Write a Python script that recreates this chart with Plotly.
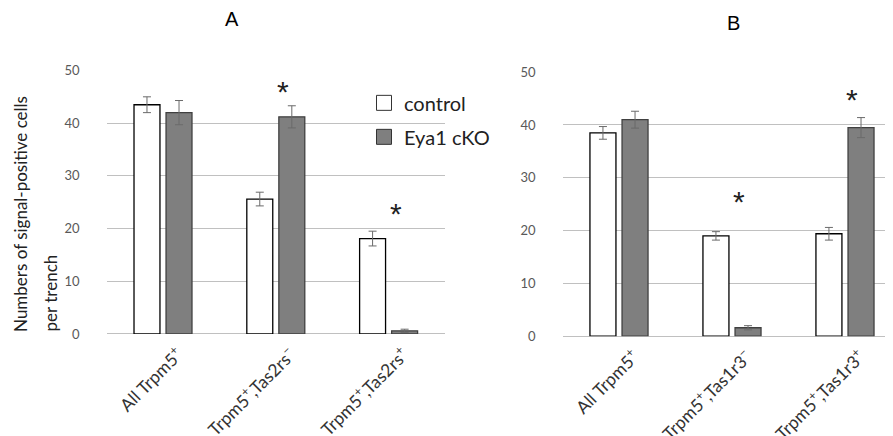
import plotly.graph_objects as go

# ---- data ----
cats_a = ["All Trpm5<sup>+</sup>", "Trpm5<sup>+</sup>,Tas2rs<sup>−</sup>", "Trpm5<sup>+</sup>,Tas2rs<sup>+</sup>"]
cats_b = ["All Trpm5<sup>+</sup>", "Trpm5<sup>+</sup>,Tas1r3<sup>−</sup>", "Trpm5<sup>+</sup>,Tas1r3<sup>+</sup>"]

ctrl_a = [43.5, 25.6, 18.1]
ctrl_a_err = [1.5, 1.3, 1.4]
cko_a = [42.0, 41.2, 0.6]
cko_a_err = [2.3, 2.1, 0.3]

ctrl_b = [38.5, 19.0, 19.4]
ctrl_b_err = [1.2, 0.8, 1.2]
cko_b = [41.0, 1.6, 39.5]
cko_b_err = [1.6, 0.4, 1.9]

sig_a = [(1, 46.3), (2, 23.2)]  # (category index, height) of asterisks
sig_b = [(1, 25.8), (2, 45.2)]

W, H = 893, 436
font_main = "Lato"

# page placement helpers (screen px -> paper fraction)
def sx(x):
    return (x - 8) / W


def sy(y):
    return 1 - (y - 16) / 420


fig = go.Figure()

ctrl_style = dict(marker=dict(color="white", line=dict(color="black", width=1.3)))
cko_style = dict(marker=dict(color="#7f7f7f", line=dict(color="#404040", width=1.3)))
err_style = dict(type="data", color="#6a6a6a", thickness=1, width=4)

for cats, c, ce, k, ke, xa, ya in [
    (cats_a, ctrl_a, ctrl_a_err, cko_a, cko_a_err, "x", "y"),
    (cats_b, ctrl_b, ctrl_b_err, cko_b, cko_b_err, "x2", "y2"),
]:
    fig.add_trace(go.Bar(x=cats, y=c, error_y=dict(array=ce, **err_style), name="control",
                         showlegend=False, xaxis=xa, yaxis=ya, **ctrl_style))
    fig.add_trace(go.Bar(x=cats, y=k, error_y=dict(array=ke, **err_style), name="Eya1 cKO",
                         showlegend=False, xaxis=xa, yaxis=ya, **cko_style))

# legend entries
fig.add_trace(go.Scatter(x=[None], y=[None], mode="markers", name="control", legendgroup="g1",
                         marker=dict(symbol="square", size=15, color="white", line=dict(color="#333", width=1))))
fig.add_trace(go.Scatter(x=[None], y=[None], mode="markers", name="Eya1 cKO", legendgroup="g2",
                         marker=dict(symbol="square", size=15, color="#7f7f7f", line=dict(color="#333", width=1))))

grid_col = "#c0c0c0"
ycommon = dict(range=[0, 50], dtick=10, showgrid=True, gridcolor=grid_col, gridwidth=1.3,
               zeroline=True, zerolinecolor=grid_col, zerolinewidth=1.3, showline=False,
               ticks="", ticklabelstandoff=26,
               tickfont=dict(family=font_main, size=13, color="#595959"), fixedrange=True)
xcommon = dict(type="category", showgrid=False, showline=False, ticks="", tickangle=-45,
               ticklabelshift=15, ticklabelstandoff=6,
               tickfont=dict(family=font_main, size=17.5, color="#333333"))

fig.update_layout(
    width=W, height=H,
    margin=dict(l=0, r=0, t=0, b=0),
    paper_bgcolor="white", plot_bgcolor="rgba(0,0,0,0)",
    barmode="group", bargap=0.432, bargroupgap=0.19,
    xaxis=dict(domain=[sx(106.6), sx(445)], range=[-0.5, 2.5], anchor="y", **xcommon),
    yaxis=dict(domain=[sy(337), sy(71)], anchor="x", **ycommon),
    xaxis2=dict(domain=[sx(562.5), sx(893)], range=[-0.5, 2.425], anchor="y2", **xcommon),
    yaxis2=dict(domain=[sy(339.3), sy(72.7)], anchor="x2", **ycommon),
    legend=dict(x=sx(364), y=sy(84), xanchor="left", yanchor="top",
                bgcolor="rgba(0,0,0,0)", font=dict(family=font_main, size=20, color="#222"),
                tracegroupgap=5, traceorder="grouped"),
    showlegend=True,
)

ann = []
ann.append(dict(text="A", x=sx(232), y=sy(19), xref="paper", yref="paper", showarrow=False,
                xanchor="center", yanchor="middle",
                font=dict(family="Liberation Sans", size=20, color="black")))
ann.append(dict(text="B", x=sx(733), y=sy(23), xref="paper", yref="paper", showarrow=False,
                xanchor="center", yanchor="middle",
                font=dict(family="Liberation Sans", size=20, color="black")))
for txt, xc in [("Numbers of signal-positive cells", 21), ("per trench", 50)]:
    ann.append(dict(text=txt, textangle=-90, x=sx(xc), y=sy(337), xref="paper", yref="paper",
                    xanchor="center", yanchor="bottom", showarrow=False,
                    font=dict(family=font_main, size=17, color="#222")))
for (i, h) in sig_a:
    ann.append(dict(text="*", x=i, y=h, xref="x", yref="y", xshift=7, yshift=-2, showarrow=False,
                    font=dict(family="Liberation Sans", size=30, color="#222")))
for (i, h) in sig_b:
    ann.append(dict(text="*", x=i, y=h, xref="x2", yref="y2", xshift=7, yshift=-2, showarrow=False,
                    font=dict(family="Liberation Sans", size=30, color="#222")))
fig.update_layout(annotations=ann)

fig.write_html("out.html")
